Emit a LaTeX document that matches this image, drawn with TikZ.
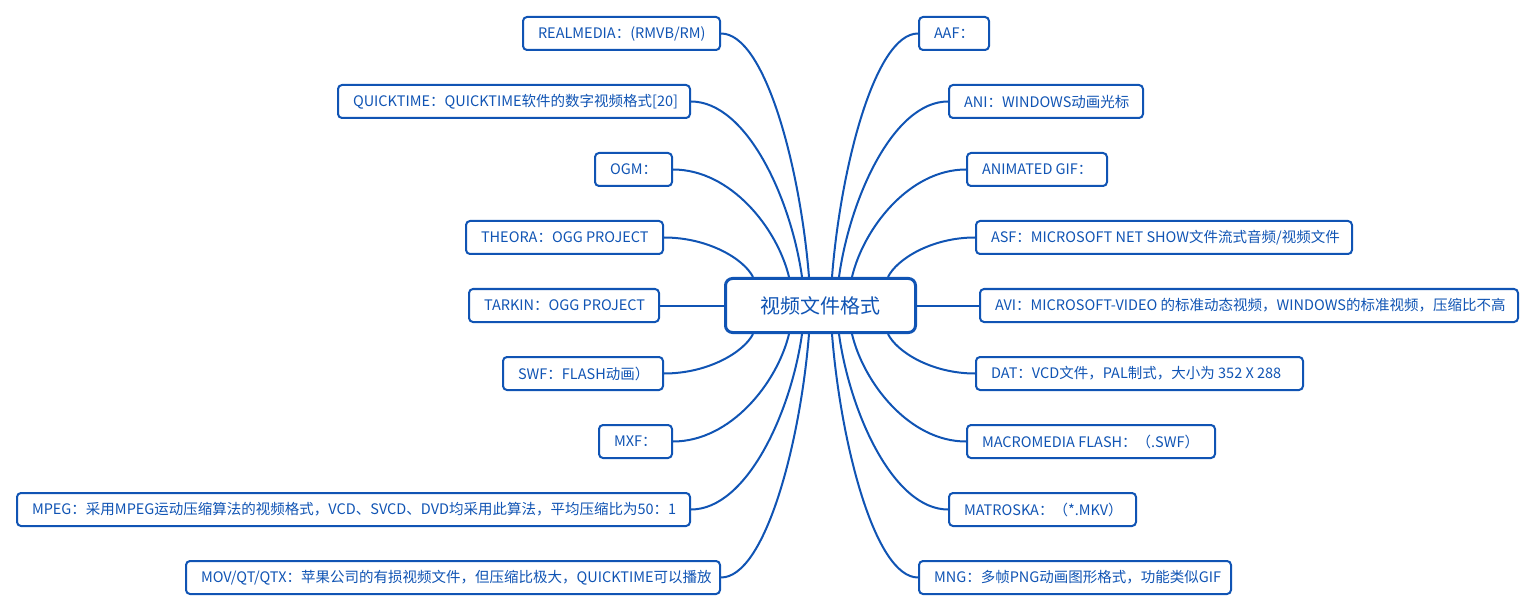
\documentclass[tikz,border=0pt]{standalone}
\usepackage{fontspec}
\setmainfont{Noto Sans CJK SC}
\usetikzlibrary{calc}
\definecolor{mblue}{RGB}{16,84,180}
\newcommand\curveconn[2]{\draw[conn] let \p1=(#1), \p2=(#2) in (\p1) .. controls ({\x1+0.1*(\x2-\x1)},{\y1+0.45*(\y2-\y1)}) and ({\x2+0.5*(\x1-\x2)},\y2) .. (\p2);}
\newcommand\lf[2]{\makebox[\dimexpr#1pt-32pt\relax][l]{#2}}
\begin{document}
\begin{tikzpicture}[x=1pt,y=-1pt,
  leaf/.style={draw=mblue, line width=2pt, rounded corners=4pt, fill=white, text=mblue,
    minimum height=33pt, inner ysep=0pt, inner xsep=15pt, font=\fontsize{14.5}{16}\selectfont},
  rootbox/.style={draw=mblue, line width=3pt, rounded corners=7pt, fill=white, text=mblue,
    minimum width=190pt, minimum height=54pt, inner sep=0pt, font=\fontsize{20}{24}\selectfont},
  conn/.style={draw=mblue, line width=2pt}]
\useasboundingbox (0,0) rectangle (1536,612);
% root
\node[rootbox] (root) at (820.5,305.5) {视频文件格式};
% left leaves
\node[leaf] (realmedia) at (621.5,33.5) {\lf{199}{REALMEDIA：(RMVB/RM)}};
\node[leaf] (quicktime) at (514,101.5) {\lf{354}{QUICKTIME：QUICKTIME软件的数字视频格式[20]}};
\node[leaf] (ogm) at (633.5,169.5) {\lf{79}{OGM：}};
\node[leaf] (theora) at (564.5,237.5) {\lf{199}{THEORA：OGG PROJECT}};
\node[leaf] (tarkin) at (564,305.5) {\lf{192}{TARKIN：OGG PROJECT}};
\node[leaf] (swf) at (583,373.5) {\lf{162}{SWF：FLASH动画）}};
\node[leaf] (mxf) at (635.5,441.5) {\lf{75}{MXF：}};
\node[leaf] (mpeg) at (353.5,509.5) {\lf{675}{MPEG：采用MPEG运动压缩算法的视频格式，VCD、SVCD、DVD均采用此算法，平均压缩比为50：1}};
\node[leaf] (mov) at (453,577.5) {\lf{536}{MOV/QT/QTX：苹果公司的有损视频文件，但压缩比极大，QUICKTIME可以播放}};
% right leaves
\node[leaf] (aaf) at (954,33.5) {\lf{72}{AAF：}};
\node[leaf] (ani) at (1046,101.5) {\lf{196}{ANI：WINDOWS动画光标}};
\node[leaf] (animgif) at (1037,169.5) {\lf{142}{ANIMATED GIF：}};
\node[leaf] (asf) at (1164,237.5) {\lf{378}{ASF：MICROSOFT NET SHOW文件流式音频/视频文件}};
\node[leaf] (avi) at (1249,305.5) {\lf{540}{AVI：MICROSOFT-VIDEO 的标准动态视频，WINDOWS的标准视频，压缩比不高}};
\node[leaf] (dat) at (1139.5,373.5) {\lf{329}{DAT：VCD文件，PAL制式，大小为 352 X 288}};
\node[leaf] (macro) at (1091,441.5) {\lf{250}{MACROMEDIA FLASH：（.SWF）}};
\node[leaf] (matroska) at (1042.5,509.5) {\lf{189}{MATROSKA：（*.MKV）}};
\node[leaf] (mng) at (1075,577.5) {\lf{314}{MNG：多帧PNG动画图形格式，功能类似GIF}};
% attachment points on the root border
\coordinate (tl1) at ($(root.north)+(-11.5,0)$);
\coordinate (tl2) at ($(root.north)+(-18.5,0)$);
\coordinate (tl3) at ($(root.north)+(-31.5,0)$);
\coordinate (tl4) at ($(root.north)+(-67.5,0)$);
\coordinate (tr1) at ($(root.north)+(11.5,0)$);
\coordinate (tr2) at ($(root.north)+(18.5,0)$);
\coordinate (tr3) at ($(root.north)+(31.5,0)$);
\coordinate (tr4) at ($(root.north)+(67.5,0)$);
\coordinate (bl1) at ($(root.south)+(-11.5,0)$);
\coordinate (bl2) at ($(root.south)+(-18.5,0)$);
\coordinate (bl3) at ($(root.south)+(-31.5,0)$);
\coordinate (bl4) at ($(root.south)+(-67.5,0)$);
\coordinate (br1) at ($(root.south)+(11.5,0)$);
\coordinate (br2) at ($(root.south)+(18.5,0)$);
\coordinate (br3) at ($(root.south)+(31.5,0)$);
\coordinate (br4) at ($(root.south)+(67.5,0)$);
% connectors
\curveconn{tl1}{realmedia.east}
\curveconn{tl2}{quicktime.east}
\curveconn{tl3}{ogm.east}
\curveconn{tl4}{theora.east}
\draw[conn] (root.west) -- (tarkin.east);
\curveconn{bl4}{swf.east}
\curveconn{bl3}{mxf.east}
\curveconn{bl2}{mpeg.east}
\curveconn{bl1}{mov.east}
\curveconn{tr1}{aaf.west}
\curveconn{tr2}{ani.west}
\curveconn{tr3}{animgif.west}
\curveconn{tr4}{asf.west}
\draw[conn] (root.east) -- (avi.west);
\curveconn{br4}{dat.west}
\curveconn{br3}{macro.west}
\curveconn{br2}{matroska.west}
\curveconn{br1}{mng.west}
\end{tikzpicture}
\end{document}
